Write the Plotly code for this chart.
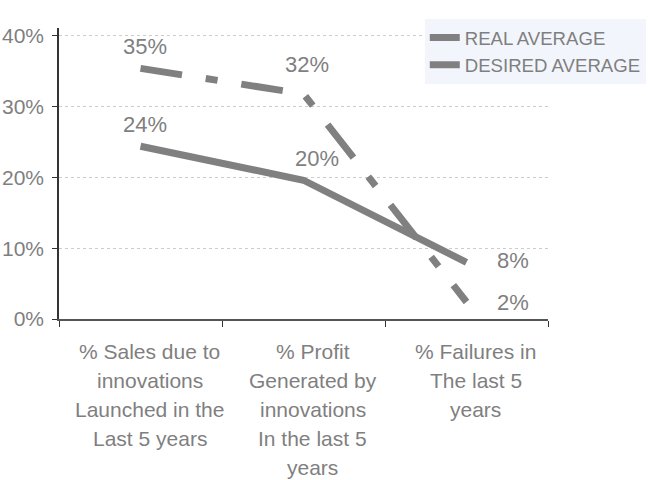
import plotly.graph_objects as go

# Survey categories (one list of lines per category label)
categories = ["sales", "profit", "failures"]
category_lines = [
    ["% Sales due to", "innovations", "Launched in the", "Last 5 years"],
    ["% Profit", "Generated by", "innovations", "In the last 5", "years"],
    ["% Failures in", "The last 5", "years"],
]

# Series values (fractions)
real_average = [0.244, 0.196, 0.08]
desired_average = [0.354, 0.318, 0.024]

GRAY = "#808080"
TEXT = "#7f7f7f"
FONT = "Liberation Sans, Arial, Helvetica, sans-serif"

fig = go.Figure()
fig.add_trace(go.Scatter(
    x=categories, y=real_average, mode="lines", name="REAL AVERAGE",
    line=dict(color=GRAY, width=7),
))
fig.add_trace(go.Scatter(
    x=categories, y=desired_average, mode="lines", name="DESIRED AVERAGE",
    line=dict(color=GRAY, width=7, dash="42px,24px,12px,24px"),
))

annotations = []
# Value labels for each point
label_offsets = {
    "real": [(4, 22, "center"), (13, 22, "center"), (28, 2, "left")],
    "desired": [(4, 22, "center"), (3, 29, "center"), (28, 0, "left")],
}
for key, series in (("real", real_average), ("desired", desired_average)):
    for i, (cat, v) in enumerate(zip(categories, series)):
        dx, dy, anchor = label_offsets[key][i]
        annotations.append(dict(
            x=cat, y=v, xref="x", yref="y", text=f"{v:.0%}", showarrow=False,
            xanchor=anchor, yanchor="middle", xshift=dx, yshift=dy,
            font=dict(family=FONT, size=22, color=TEXT),
        ))

# Multi-line category labels under the axis
for cat, lines in zip(categories, category_lines):
    for j, line in enumerate(lines):
        annotations.append(dict(
            x=cat, y=0, xref="x", yref="y", text=line, showarrow=False,
            xanchor="center", yanchor="middle", xshift=9, yshift=-(32 + 29 * j),
            font=dict(family=FONT, size=21, color=TEXT),
        ))

fig.update_layout(
    width=648, height=480,
    margin=dict(l=59, r=100, t=28, b=161, autoexpand=False),
    paper_bgcolor="white", plot_bgcolor="white",
    font=dict(family=FONT, color=TEXT),
    showlegend=True,
    legend=dict(
        x=0.748, y=1.031, xanchor="left", yanchor="top",
        bgcolor="rgb(242,246,252)", borderwidth=0,
        font=dict(family=FONT, size=18.6, color=TEXT),
        itemwidth=30, tracegroupgap=0,
    ),
    annotations=annotations,
    xaxis=dict(
        type="category", range=[-0.5, 2.5], tickson="boundaries",
        ticks="outside", ticklen=6, tickcolor="#333333",
        showticklabels=False, showgrid=False, automargin=False,
        showline=True, linecolor="#555555", linewidth=1.5,
        zeroline=False,
    ),
    yaxis=dict(
        range=[0, 0.411], tickvals=[0, 0.1, 0.2, 0.3, 0.4],
        tickformat=".0%", ticks="outside", ticklen=5, tickcolor="#333333",
        ticklabelstandoff=4, automargin=False,
        tickfont=dict(family=FONT, size=21, color=TEXT),
        showgrid=True, gridcolor="#cccccc", griddash="dot", gridwidth=1,
        showline=True, linecolor="#333333", linewidth=1.5,
        zeroline=False,
    ),
)

fig.write_html("out.html")
